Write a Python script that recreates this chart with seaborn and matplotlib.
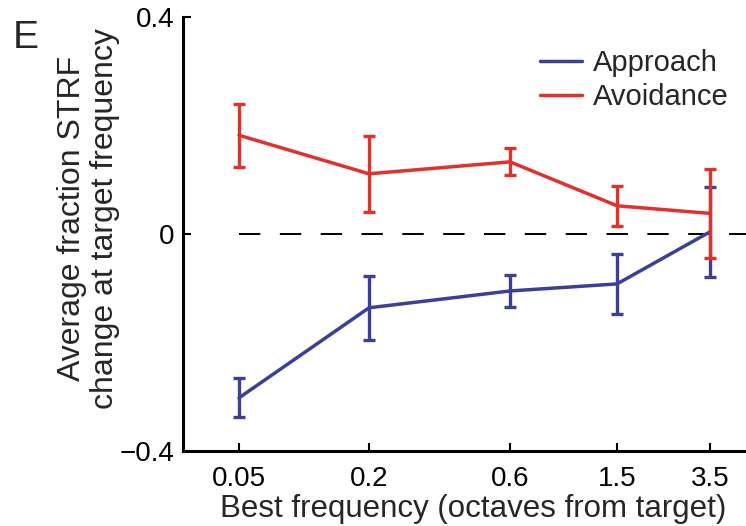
import numpy as np
import pandas as pd
import matplotlib
matplotlib.use('Agg')
import matplotlib.pyplot as plt
import seaborn as sns

# bins of best frequency (octaves from target)
freq_labels = ['0.05', '0.2', '0.6', '1.5', '3.5']
freq_pos = [0.0, 1.0, 2.085, 2.908, 3.623]  # place of each bin on the x axis

approach_mean = [-0.302, -0.136, -0.105, -0.092, 0.004]
approach_err = [0.036, 0.059, 0.030, 0.056, 0.083]
avoid_mean = [0.182, 0.111, 0.133, 0.052, 0.038]
avoid_err = [0.058, 0.070, 0.025, 0.037, 0.082]

df = pd.DataFrame({
    'pos': freq_pos * 2,
    'value': approach_mean + avoid_mean,
    'err': approach_err + avoid_err,
    'group': ['Approach'] * 5 + ['Avoidance'] * 5,
})

colors = {'Approach': '#3b3f98', 'Avoidance': '#e2302b'}

sns.set_style('ticks')
plt.rcParams['font.family'] = ['Liberation Sans', 'DejaVu Sans']

fig = plt.figure(figsize=(7.46, 5.26), dpi=100)
ax = fig.add_axes([183 / 746, 75 / 526, 563 / 746, 434 / 526])

# dashed zero line from first bin to the right edge
ax.plot([freq_pos[0], 3.9], [0, 0], color='black', lw=1.4,
        dashes=(11, 10), zorder=1)

sns.lineplot(data=df, x='pos', y='value', hue='group', palette=colors,
             lw=2.5, ax=ax, zorder=3, legend=True)

for name in ['Approach', 'Avoidance']:
    sub = df[df['group'] == name]
    ax.errorbar(sub['pos'], sub['value'], yerr=sub['err'], fmt='none',
                ecolor=colors[name], elinewidth=2.4, capsize=4.2,
                capthick=2.4, zorder=3)

ax.set_xlim(-0.431, 3.9)
ax.set_ylim(-0.4, 0.4)
ax.set_xticks(freq_pos)
ax.set_xticklabels(freq_labels)
ax.set_yticks([-0.4, 0, 0.4])
ax.set_yticklabels(['\u22120.4', '0', '0.4'])
ax.tick_params(direction='in', length=6, width=1.5, labelsize=20,
               colors='black')
ax.tick_params(axis='x', pad=11)
ax.tick_params(axis='y', pad=6)

sns.despine(ax=ax)
for s in ['left', 'bottom']:
    ax.spines[s].set_linewidth(2.2)
    ax.spines[s].set_color('black')

ax.set_xlabel('Best frequency (octaves from target)', fontsize=22.5)
ax.xaxis.set_label_coords((473 - 183) / 563, -0.098)
ax.xaxis.label.set_va('top')
ax.set_ylabel('Average fraction STRF\nchange at target frequency',
              fontsize=23, linespacing=1.12)
ax.yaxis.set_label_coords(-0.112, 0.535)

ax.legend(loc='upper left', bbox_to_anchor=(540 / 746, 1 - 49 / 526),
          bbox_transform=fig.transFigure, frameon=False, fontsize=21,
          handlelength=1.45, handletextpad=0.38, labelspacing=0.2,
          borderpad=0, borderaxespad=0)
for line in ax.get_legend().get_lines():
    line.set_linewidth(2.5)

fig.text(13 / 746, 1 - 48 / 526, 'E', fontsize=28, ha='left', va='baseline')

fig.savefig('out.png', dpi=100)
